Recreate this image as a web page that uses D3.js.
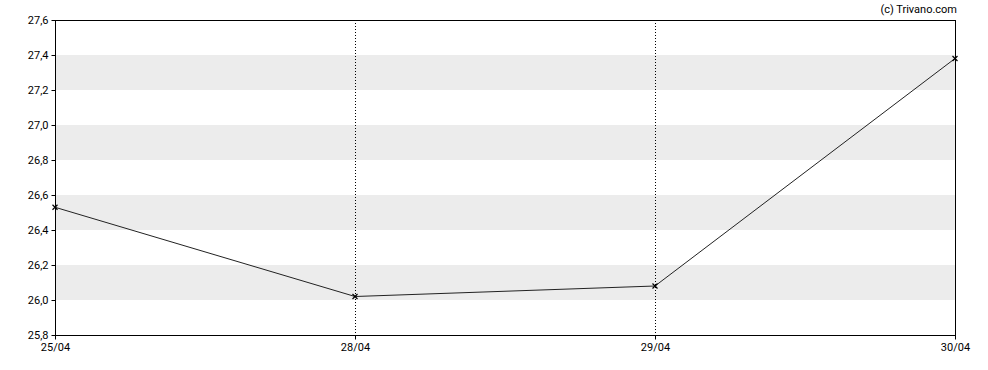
<!DOCTYPE html>
<html lang="en">
<head>
  <meta charset="UTF-8">
  <title>Trivano chart</title>
  <script src="https://d3js.org/d3.v7.min.js"></script>
  <style>
    body { margin: 0; background: #fff; }
    svg text { font-family: Roboto, Arial, sans-serif; font-size: 11px; fill: #000; }
    .axis .domain { stroke: none; }
    .axis line { stroke: #000; }
  </style>
</head>
<body>
  <svg id="chart" width="988" height="370"></svg>
  <script>
    // data
    const dates = ["25/04", "28/04", "29/04", "30/04"];
    const prices = [26.53, 26.02, 26.08, 27.38];
    const yTicks = [25.8, 26.0, 26.2, 26.4, 26.6, 26.8, 27.0, 27.2, 27.4, 27.6];
    const bands = [[26.0, 26.2], [26.4, 26.6], [26.8, 27.0], [27.2, 27.4]];

    const svg = d3.select("svg#chart");
    const margin = {top: 20, right: 33, bottom: 35, left: 55};
    const width = +svg.attr("width") - margin.left - margin.right;
    const height = +svg.attr("height") - margin.top - margin.bottom;

    const g = svg.append("g").attr("transform", `translate(${margin.left},${margin.top})`);

    const x = d3.scalePoint().domain(dates).range([0, width]);
    const y = d3.scaleLinear().domain([25.8, 27.6]).range([height, 0]);

    // grey bands
    g.selectAll("rect.band")
      .data(bands)
      .join("rect")
      .attr("class", "band")
      .attr("x", 0)
      .attr("width", width)
      .attr("y", d => y(d[1]))
      .attr("height", d => y(d[0]) - y(d[1]))
      .style("fill", "#ececec");

    // dotted verticals on inner dates
    g.selectAll("line.vgrid")
      .data(dates.slice(1, -1))
      .join("line")
      .attr("class", "vgrid")
      .attr("x1", d => Math.round(x(d)) + 0.5)
      .attr("x2", d => Math.round(x(d)) + 0.5)
      .attr("y1", 0)
      .attr("y2", height)
      .style("stroke", "#000")
      .style("stroke-dasharray", "1,2");

    // frame
    g.append("rect")
      .attr("x", 0.5).attr("y", 0.5)
      .attr("width", width).attr("height", height)
      .style("fill", "none")
      .style("stroke", "#000");

    // axes
    g.append("g")
      .attr("class", "axis")
      .attr("transform", `translate(0.5,0)`)
      .call(d3.axisLeft(y).tickValues(yTicks).tickSize(4).tickPadding(3)
        .tickFormat(d => d3.format(".1f")(d).replace(".", ",")));

    g.append("g")
      .attr("class", "axis")
      .attr("transform", `translate(0,${height + 0.5})`)
      .call(d3.axisBottom(x).tickSize(4).tickPadding(4));

    // line
    const line = d3.line()
      .x((d, i) => x(dates[i]))
      .y(d => y(d));

    g.append("path")
      .datum(prices)
      .attr("d", line)
      .style("fill", "none")
      .style("stroke", "#222")
      .style("stroke-width", 1);

    // x markers
    const s = 2.5;
    prices.forEach((p, i) => {
      const cx = x(dates[i]), cy = y(p);
      g.append("path")
        .attr("d", `M${cx - s},${cy - s}L${cx + s},${cy + s}M${cx - s},${cy + s}L${cx + s},${cy - s}`)
        .style("stroke", "#000")
        .style("stroke-width", 1.2);
    });

    // credit
    svg.append("text")
      .attr("x", margin.left + width + 2)
      .attr("y", 13)
      .attr("text-anchor", "end")
      .text("(c) Trivano.com");
  </script>
</body>
</html>
